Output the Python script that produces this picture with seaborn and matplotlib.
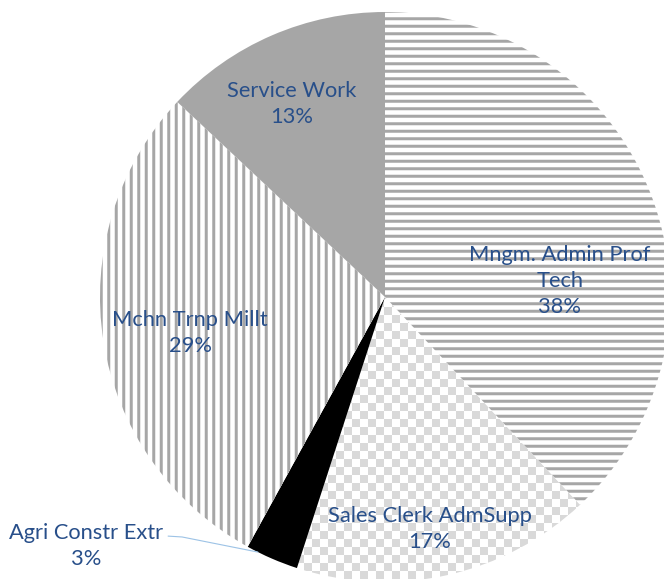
import numpy as np
import matplotlib
matplotlib.use("Agg")
import matplotlib.pyplot as plt
import seaborn as sns

# Occupation groups, clockwise from 12 o'clock
categories = ["Mngm. Admin Prof\nTech", "Sales Clerk AdmSupp", "Agri Constr Extr",
              "Mchn Trnp Millt", "Service Work"]
shares = [38, 17, 3, 29, 13]

sns.set_theme(style="white")
plt.rcParams["font.family"] = ["Lato", "DejaVu Sans"]
plt.rcParams["hatch.linewidth"] = 2.4
plt.rcParams["hatch.color"] = "#a6a6a6"

DPI = 90
W, H = 664, 579
fig = plt.figure(figsize=(W / DPI, H / DPI), dpi=DPI)
ax = fig.add_axes([0, 0, 1, 1])

GRAY = "#a6a6a6"
LIGHT = "#d9d9d9"
TEXT = "#284f8a"

faces = ["white", "white", "black", "white", GRAY]
hatches = ["--", None, None, "||", None]

wedges, _ = ax.pie(shares, startangle=90, counterclock=False, radius=1.0,
                   colors=faces, wedgeprops=dict(linewidth=0))
for w, h, fc in zip(wedges, hatches, faces):
    if h:
        w.set_hatch(h)
        w.set_edgecolor(GRAY)
        w.set_linewidth(0)
    else:
        w.set_edgecolor(fc)

# view: pie radius = 285 px, centre at (385, 297) px from top-left
S = 285.0
x0, x1 = -385 / S, (W - 385) / S
y0, y1 = (297 - H) / S, 297 / S

# checkerboard fill for the sales wedge
cell = 8 / S
nx = int(np.ceil((x1 - x0) / cell)) + 1
ny = int(np.ceil((y1 - y0) / cell)) + 1
ii, jj = np.indices((ny, nx))
checker = ((ii + jj) % 2).astype(float)
cmap = matplotlib.colors.ListedColormap(["white", LIGHT])
img = ax.imshow(checker, cmap=cmap, interpolation="nearest", origin="lower",
                extent=(x0, x0 + nx * cell, y0, y0 + ny * cell), zorder=0.5)
img.set_clip_path(wedges[1])
wedges[1].set_zorder(0.4)

ax.set_xlim(x0, x1)
ax.set_ylim(y0, y1)
ax.set_aspect("equal")
ax.axis("off")

# data labels
label_pos = [(0.614, 0.056), (0.158, -0.814), (-1.049, -0.874),
             (-0.684, -0.126), (-0.328, 0.677)]
for name, val, (lx, ly) in zip(categories, shares, label_pos):
    ax.text(lx, ly, f"{name}\n{val}%", ha="center", va="center",
            fontsize=17.5, color=TEXT, linespacing=1.38, zorder=5)

# leader line for the thin slice
leader_x = [-0.761, -0.712, -0.446]
leader_y = [-0.839, -0.842, -0.895]
ax.plot(leader_x, leader_y, color="#9dc3e6", lw=0.9, zorder=4)

fig.savefig("out.png", dpi=DPI)
